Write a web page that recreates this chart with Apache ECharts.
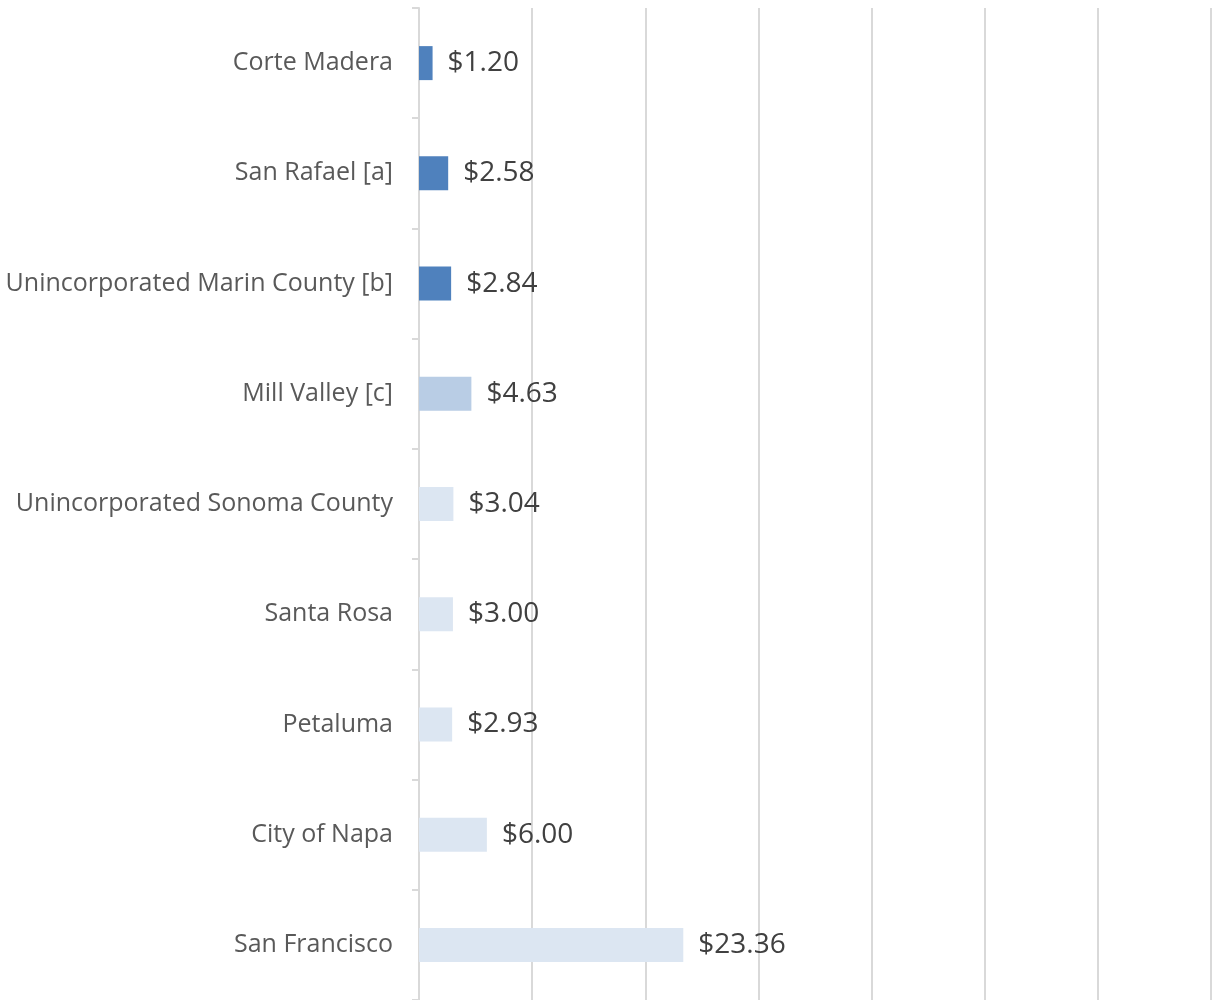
<!DOCTYPE html>
<html>
<head>
<meta charset="utf-8">
<script src="https://cdn.jsdelivr.net/npm/echarts@6/dist/echarts.min.js"></script>
<style>
  html, body { margin: 0; padding: 0; background: #fff; }
  #bar { width: 1215px; height: 1000px; }
</style>
</head>
<body>
<div id="bar"></div>
<script>
// 城市名称（从上到下）
const cities = [
  'Corte Madera',
  'San Rafael [a]',
  'Unincorporated Marin County [b]',
  'Mill Valley [c]',
  'Unincorporated Sonoma County',
  'Santa Rosa',
  'Petaluma',
  'City of Napa',
  'San Francisco'
]
// 数值
const fees = [1.20, 2.58, 2.84, 4.63, 3.04, 3.00, 2.93, 6.00, 23.36]
// 每根柱子的颜色分组
const groups = ['marin', 'marin', 'marin', 'mill', 'other', 'other', 'other', 'other', 'other']
const groupColors = { marin: '#4f81bd', mill: '#b9cde5', other: '#dce6f2' }

function barEcharts() {
  var myChart = echarts.init(document.getElementById('bar'))
  var option = {
    animation: false,
    grid: { left: 419, right: 4, top: 8, bottom: 0, containLabel: false },
    xAxis: {
      type: 'value',
      min: 0,
      max: 70,
      interval: 10,
      axisLabel: { show: false },
      axisLine: { show: false },
      axisTick: { show: false },
      splitLine: { lineStyle: { color: '#d9d9d9', width: 2 } }
    },
    yAxis: {
      type: 'category',
      inverse: true,
      data: cities,
      axisLine: { lineStyle: { color: '#d9d9d9', width: 2 } },
      axisTick: { show: true, length: 7, lineStyle: { color: '#d9d9d9', width: 2 } },
      axisLabel: {
        margin: 26,
        fontSize: 25,
        color: '#595959',
        fontFamily: 'Open Sans',
        padding: [8, 0, 0, 0]
      }
    },
    series: [
      {
        type: 'bar',
        barWidth: 34,
        data: fees.map((v, i) => ({ value: v, itemStyle: { color: groupColors[groups[i]] } })),
        label: {
          show: true,
          position: 'right',
          distance: 15,
          fontSize: 28,
          color: '#404040',
          fontFamily: 'Open Sans',
          padding: [7, 0, 0, 0],
          formatter: p => '$' + p.value.toFixed(2)
        }
      }
    ]
  }
  option && myChart.setOption(option)
}
barEcharts()
</script>
</body>
</html>
